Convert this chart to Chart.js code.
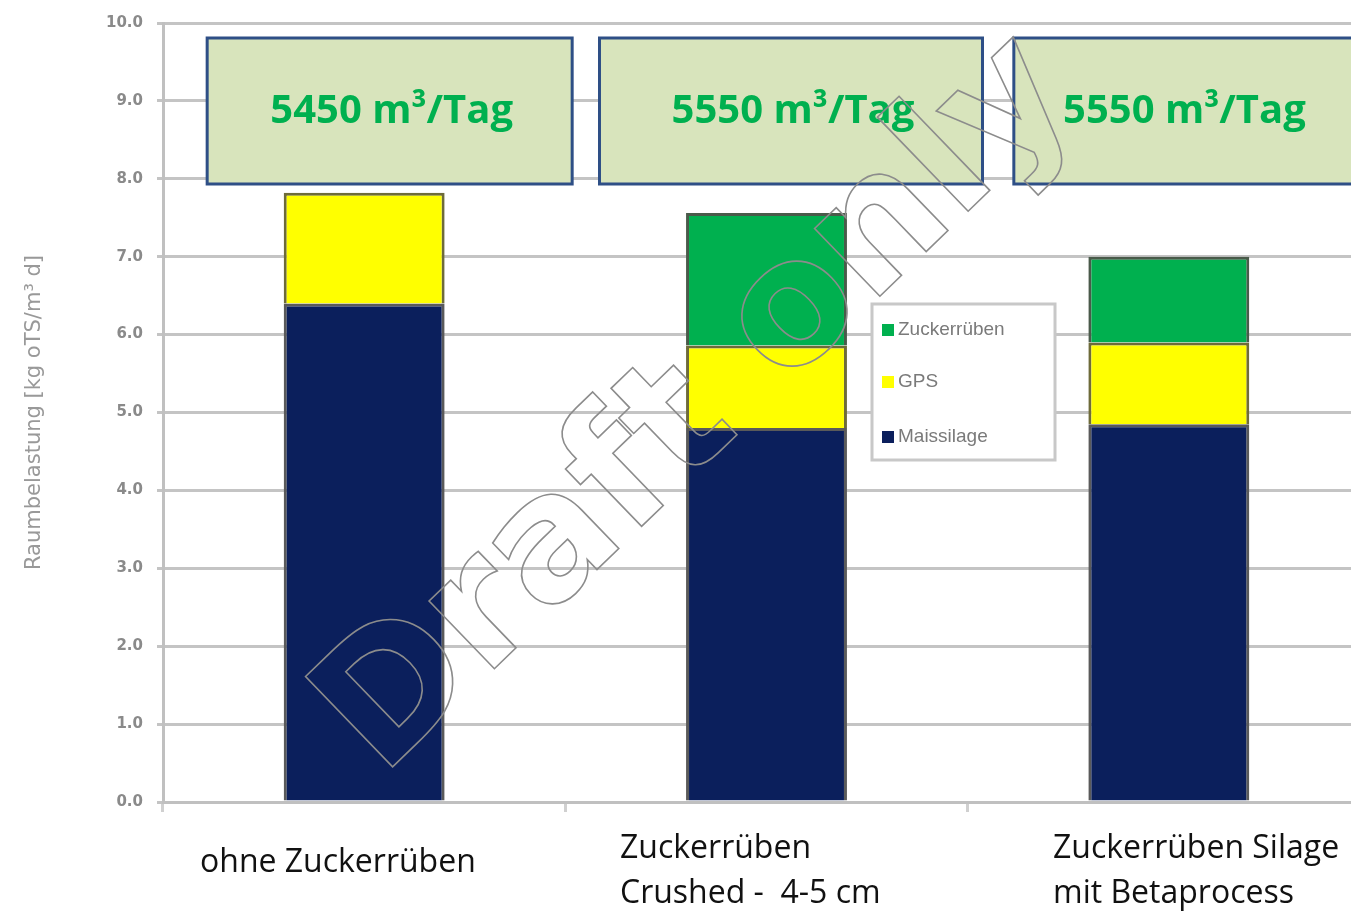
<!DOCTYPE html>
<html>
<head>
<meta charset="utf-8">
<script src="https://cdn.jsdelivr.net/npm/chart.js@4"></script>
<style>
  html, body { margin: 0; padding: 0; background: #fff; overflow: hidden; }
  #wrap { width: 1370px; height: 912px; }
</style>
</head>
<body>
<div id="wrap"><canvas id="myChart" width="1370" height="912"></canvas></div>
<script>
// datos
const kategorien = [['ohne Zuckerrüben'], ['Zuckerrüben', 'Crushed -  4-5 cm'], ['Zuckerrüben Silage', 'mit Betaprocess']];
const maissilage = [6.4, 4.8, 4.85];
const gps = [1.42, 1.06, 1.05];
const zuckerrueben = [0, 1.7, 1.1];
const gasmenge = ['5450 m³/Tag', '5550 m³/Tag', '5550 m³/Tag'];
const legendNamen = ['Zuckerrüben', 'GPS', 'Maissilage'];
const yTitel = 'Raumbelastung [kg oTS/m³ d]';

const colMais = '#0b1f5c';
const colGps = '#ffff00';
const colZucker = '#00b04f';

const ctx = document.getElementById('myChart');

// cajas, leyenda, etiquetas y marca de agua
const extras = {
  id: 'extras',
  afterDraw(chart) {
    const c = chart.ctx;
    const x = chart.scales.x;

    // cajas verdes arriba
    const links = [-157, -167, -155];
    const rechts = [208, 216, 240];
    c.save();
    for (let i = 0; i < gasmenge.length; i++) {
      const cx = x.getPixelForValue(i);
      const l = cx + links[i], r = cx + rechts[i];
      c.fillStyle = '#d8e4bc';
      c.strokeStyle = '#2e4f86';
      c.lineWidth = 3;
      c.fillRect(l, 38, r - l, 146);
      c.strokeRect(l, 38, r - l, 146);
      c.fillStyle = '#00b04f';
      c.font = 'bold 40px "Open Sans"';
      c.textAlign = 'center';
      c.textBaseline = 'middle';
      c.fillText(gasmenge[i], (l + Math.min(r, 1351)) / 2 + 2, 112);
    }

    // leyenda
    c.fillStyle = '#fff';
    c.fillRect(872, 304, 183, 156);
    c.strokeStyle = '#c8c8c8';
    c.lineWidth = 3;
    c.strokeRect(872, 304, 183, 156);
    const legCols = [colZucker, colGps, colMais];
    const legY = [330, 382, 437];
    c.font = '19px "Liberation Sans"';
    c.textAlign = 'left';
    c.textBaseline = 'middle';
    for (let i = 0; i < legendNamen.length; i++) {
      c.fillStyle = legCols[i];
      c.fillRect(882, legY[i] - 6, 12, 12);
      c.fillStyle = '#7a7a7a';
      c.fillText(legendNamen[i], 898, legY[i]);
    }

    // etiquetas de categoria
    c.fillStyle = '#111';
    c.font = '32px "Open Sans"';
    c.textBaseline = 'alphabetic';
    const labX = [200, 620, 1053];
    for (let i = 0; i < kategorien.length; i++) {
      const lines = kategorien[i];
      if (lines.length === 1) {
        c.fillText(lines[0], labX[i], 872);
      } else {
        c.fillText(lines[0], labX[i], 858);
        c.fillText(lines[1], labX[i], 903);
      }
    }

    // marca de agua
    c.translate(700, 408);
    c.rotate(-44 * Math.PI / 180);
    c.font = 'bold 172px "DejaVu Sans"';
    c.textAlign = 'center';
    c.textBaseline = 'middle';
    c.strokeStyle = '#8c8c8c';
    c.lineWidth = 1.6;
    c.strokeText('Draft only', 0, 0);
    c.restore();
  }
};

new Chart(ctx, {
  type: 'bar',
  data: {
    labels: kategorien.map(k => k.join(' ')),
    datasets: [{
      label: legendNamen[2],
      data: maissilage,
      backgroundColor: colMais,
      borderColor: '#5a5a5a',
      borderWidth: 3
    }, {
      label: legendNamen[1],
      data: gps,
      backgroundColor: colGps,
      borderColor: '#6e6b3a',
      borderWidth: 3
    }, {
      label: legendNamen[0],
      data: zuckerrueben,
      backgroundColor: colZucker,
      borderColor: '#4a5a4a',
      borderWidth: 3
    }]
  },
  options: {
    responsive: false,
    animation: false,
    layout: { padding: { left: 22, top: 20, right: 0, bottom: 100 } },
    plugins: {
      legend: { display: false },
      tooltip: { enabled: false }
    },
    datasets: { bar: { barPercentage: 0.4, categoryPercentage: 1.0 } },
    scales: {
      x: {
        stacked: true,
        ticks: { display: false },
        grid: { drawOnChartArea: false, offset: true, tickLength: 10, color: '#d0d0d0', lineWidth: 3 },
        border: { color: '#c0c0c0', width: 3 }
      },
      y: {
        stacked: true,
        min: 0,
        max: 10,
        ticks: {
          stepSize: 1,
          padding: 14,
          color: '#8a8a8a',
          font: { size: 15, weight: 'bold', family: 'DejaVu Sans' },
          callback: v => v.toFixed(1)
        },
        grid: { color: '#c4c4c4', lineWidth: 3, tickLength: 6 },
        border: { color: '#c0c0c0', width: 3 },
        title: {
          display: true,
          text: yTitel,
          color: '#999999',
          font: { size: 21, family: 'DejaVu Sans' },
          padding: { top: 0, bottom: 40 }
        },
        afterFit(scale) { scale.width = 141; }
      }
    }
  },
  plugins: [extras]
});
</script>
</body>
</html>
